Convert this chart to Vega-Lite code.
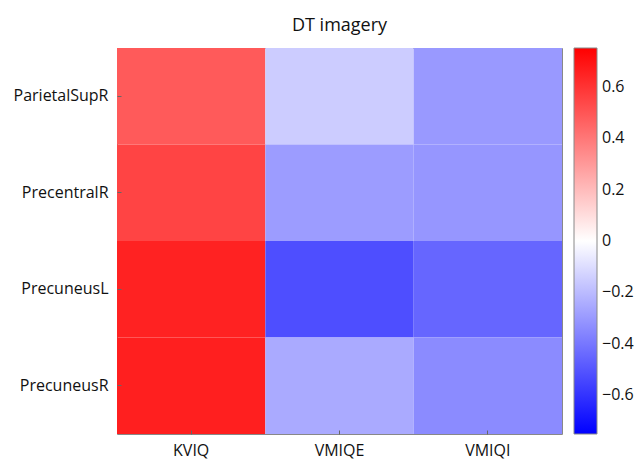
{
  "$schema": "https://vega.github.io/schema/vega-lite/v6.json",
  "autosize": {"type": "none"},
  "padding": {"left": 117, "top": 48, "right": 72, "bottom": 26},
  "width": 445,
  "height": 386,
  "title": {"text": "DT imagery", "fontSize": 18, "font": "Open Sans", "fontWeight": "normal", "color": "#111", "offset": 13},
  "data": {"values": [
    {"region": "ParietalSupR", "measure": "KVIQ", "r": 0.485},
    {"region": "ParietalSupR", "measure": "VMIQE", "r": -0.15},
    {"region": "ParietalSupR", "measure": "VMIQI", "r": -0.3},
    {"region": "PrecentralR", "measure": "KVIQ", "r": 0.55},
    {"region": "PrecentralR", "measure": "VMIQE", "r": -0.29},
    {"region": "PrecentralR", "measure": "VMIQI", "r": -0.31},
    {"region": "PrecuneusL", "measure": "KVIQ", "r": 0.65},
    {"region": "PrecuneusL", "measure": "VMIQE", "r": -0.52},
    {"region": "PrecuneusL", "measure": "VMIQI", "r": -0.45},
    {"region": "PrecuneusR", "measure": "KVIQ", "r": 0.66},
    {"region": "PrecuneusR", "measure": "VMIQE", "r": -0.25},
    {"region": "PrecuneusR", "measure": "VMIQI", "r": -0.34}
  ]},
  "mark": {"type": "rect"},
  "encoding": {
    "x": {"field": "measure", "type": "nominal", "title": null,
      "scale": {"paddingInner": 0, "paddingOuter": 0},
      "axis": {"labelAngle": 0, "labelFontSize": 16, "labelFont": "Open Sans", "labelColor": "#111", "domain": false, "tickSize": -4, "tickColor": "#666", "labelPadding": 12, "zindex": 1}},
    "y": {"field": "region", "type": "nominal", "title": null,
      "scale": {"paddingInner": 0, "paddingOuter": 0},
      "axis": {"labelFontSize": 16, "labelFont": "Open Sans", "labelColor": "#111", "domain": false, "tickSize": -4, "tickColor": "#666", "labelPadding": 13, "zindex": 1}},
    "color": {"field": "r", "type": "quantitative", "title": null,
      "scale": {"domain": [-0.75, 0, 0.75], "range": ["#0000ff", "#ffffff", "#ff0000"], "interpolate": "rgb"},
      "legend": {"values": [-0.6, -0.4, -0.2, 0, 0.2, 0.4, 0.6], "format": "~g", "gradientLength": 386, "gradientThickness": 23, "offset": 12, "labelFontSize": 16, "labelFont": "Open Sans", "labelColor": "#111", "gradientStrokeColor": "#888", "gradientStrokeWidth": 1, "padding": 0, "labelOffset": 5}}
  },
  "config": {"view": {"stroke": "#888", "strokeWidth": 1}}
}
